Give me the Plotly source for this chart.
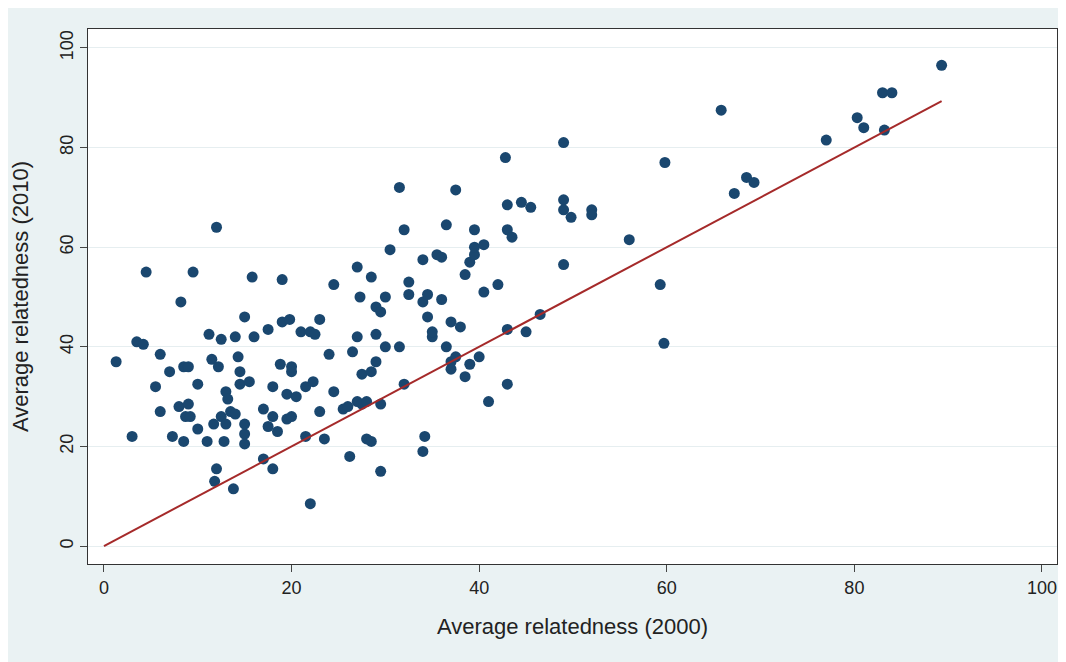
import plotly.graph_objects as go

# average relatedness per unit, 2000 vs 2010
rel_2000 = [1.3, 3, 3.5, 4.2, 4.5, 5.5, 6, 6, 7, 7.3, 8, 8.2, 8.5, 8.5, 8.7, 9, 9, 9.2, 9.5, 10, 10,
            11, 11.2, 11.5, 11.7, 11.8, 12, 12, 12.2, 12.5, 12.5, 12.8, 13, 13, 13.2, 13.5, 13.8, 14, 14,
            14.3, 14.5, 14.5, 15, 15, 15, 15, 15.5, 15.8, 16, 17, 17, 17.5, 17.5, 18, 18, 18, 18.5, 18.8,
            19, 19, 19.5, 19.5, 19.8, 20, 20, 20,
            20.5, 21, 21.5, 21.5, 22, 22, 22.3, 22.5, 23, 23, 23.5, 24, 24.5, 24.5, 25.5, 26, 26.2, 26.5,
            27, 27, 27, 27.3, 27.5, 27.5, 28, 28, 28.5, 28.5, 28.5, 29, 29, 29, 29.5, 29.5, 29.5, 30, 30, 30.5,
            31.5, 31.5, 32, 32, 32.5, 32.5, 34, 34, 34, 34.2, 34.5, 34.5, 35, 35, 35.5, 36, 36, 36.5, 36.5,
            37, 37, 37, 37.5, 37.5, 38, 38.5, 38.5, 39, 39, 39.5, 39.5, 39.5, 40, 40.5, 40.5,
            41, 42, 42.8, 43, 43, 43, 43, 43.5, 44.5, 45, 45.5, 46.5, 49, 49, 49, 49, 49.8,
            52, 52, 56, 59.3, 59.7, 59.8, 65.8, 67.2, 68.5, 69.3, 77, 80.3, 81, 83, 83.2, 84, 89.3]
rel_2010 = [37, 22, 41, 40.5, 55, 32, 27, 38.5, 35, 22, 28, 49, 21, 36, 26, 28.5, 36, 26, 55, 32.5, 23.5,
            21, 42.5, 37.5, 24.5, 13, 64, 15.5, 36, 26, 41.5, 21, 24.5, 31, 29.5, 27, 11.5, 42, 26.5,
            38, 35, 32.5, 22.5, 24.5, 20.5, 46, 33, 54, 42, 17.5, 27.5, 24, 43.5, 26, 15.5, 32, 23, 36.5,
            53.5, 45, 30.5, 25.5, 45.5, 35, 36, 26,
            30, 43, 32, 22, 8.5, 43, 33, 42.5, 45.5, 27, 21.5, 38.5, 52.5, 31, 27.5, 28, 18, 39,
            29, 56, 42, 50, 34.5, 28.5, 21.5, 29, 54, 35, 21, 48, 37, 42.5, 28.5, 15, 47, 50, 40, 59.5,
            40, 72, 63.5, 32.5, 53, 50.5, 57.5, 49, 19, 22, 46, 50.5, 42, 43, 58.5, 49.5, 58, 64.5, 40,
            35.5, 45, 37, 71.5, 38, 44, 34, 54.5, 57, 36.5, 58.5, 63.5, 60, 38, 51, 60.5,
            29, 52.5, 78, 68.5, 63.5, 32.5, 43.5, 62, 69, 43, 68, 46.5, 81, 69.5, 67.5, 56.5, 66,
            67.5, 66.5, 61.5, 52.5, 40.7, 77, 87.5, 70.8, 74, 73, 81.5, 86, 84, 91, 83.5, 91, 96.5]

# fitted line end points
fit_x = [0, 89.3]
fit_y = [0, 89.3]

fig = go.Figure()
fig.add_trace(go.Scatter(x=rel_2000, y=rel_2010, mode='markers',
                         marker=dict(color='#1a476f', size=11, line=dict(width=0))))
fig.add_trace(go.Scatter(x=fit_x, y=fit_y, mode='lines', line=dict(color='#a52a2a', width=2)))

axis_font = dict(family='Liberation Sans, Arial', size=18, color='#222')
fig.update_layout(
    width=1066, height=662, showlegend=False,
    paper_bgcolor='#eaf2f3', plot_bgcolor='white',
    margin=dict(l=80, r=17, t=21, b=106),
    font=axis_font,
    xaxis=dict(range=[-1.7, 101.6], tickvals=[0, 20, 40, 60, 80, 100], showgrid=False, zeroline=False,
               showline=True, linecolor='#333', linewidth=1, mirror=True, ticks='outside', ticklen=7,
               automargin=False, title=dict(text='Average relatedness (2000)', standoff=22)),
    yaxis=dict(range=[-3.6, 103.8], tickvals=[0, 20, 40, 60, 80, 100], tickangle=-90,
               gridcolor='#e6eef0', gridwidth=1, zeroline=False,
               showline=True, linecolor='#333', linewidth=1, mirror=True, ticks='outside', ticklen=7,
               automargin=False, title=dict(text='Average relatedness (2010)', standoff=22)),
)

fig.write_html("out.html")
